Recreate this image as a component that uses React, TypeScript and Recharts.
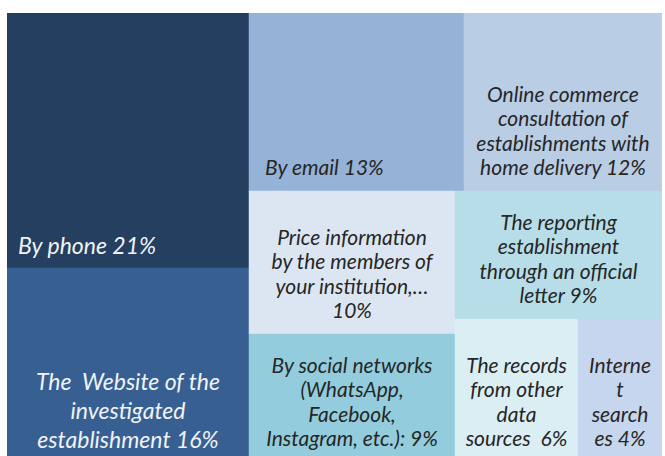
import React from 'react';
import { Treemap } from 'recharts';

const categories = [
  'By phone',
  'The Website of the investigated establishment',
  'By email',
  'Online commerce consultation of establishments with home delivery',
  'Price information by the members of your institution',
  'By social networks (WhatsApp, Facebook, Instagram, etc.)',
  'The reporting establishment through an official letter',
  'The records from other data sources',
  'Internet searches',
];
const shares = [21, 16, 13, 12, 10, 9, 9, 6, 4];
const labelLines = [
  ['By phone 21%'],
  ['The  Website of the', 'investigated', 'establishment 16%'],
  ['By email 13%'],
  ['Online commerce', 'consultation of', 'establishments with', 'home delivery 12%'],
  ['Price information', 'by the members of', 'your institution,…', '10%'],
  ['By social networks', '(WhatsApp,', 'Facebook,', 'Instagram, etc.): 9%'],
  ['The reporting', 'establishment', 'through an official', 'letter 9%'],
  ['The records', 'from other', 'data', 'sources  6%'],
  ['Interne', 't', 'search', 'es 4%'],
];
const COLORS = ['#243F60', '#375F92', '#95B3D7', '#B9CDE5', '#DCE6F2', '#93CDDD', '#B7DEE8', '#DAEEF3', '#C6D6EE'];

const data = categories.map((name, i) => ({ name, size: shares[i], lines: labelLines[i] }));

const Cell = (props: any) => {
  const { x, y, width, height, depth, name, lines } = props;
  if (depth !== 1 || !lines) return null;
  const idx = categories.indexOf(name);
  const fill = COLORS[idx];
  const dark = idx <= 1;
  const fontSize = dark ? 23 : 21;
  const lineH = dark ? 29 : 24.5;
  const bottomPad = dark ? 14 : 16;
  const sidePad = dark ? 11 : 16;
  const single = lines.length === 1;
  const tx = single ? x + sidePad : x + width / 2;
  const first = y + height - bottomPad - (lines.length - 1) * lineH;
  return (
    <g>
      <rect x={x} y={y} width={width} height={height} fill={fill} stroke={fill} strokeWidth={0.5} />
      <text
        textAnchor={single ? 'start' : 'middle'}
        fill={dark ? '#F0F3F7' : '#262626'}
        fontFamily="Lato, 'Open Sans', sans-serif"
        fontStyle="italic"
        fontSize={fontSize}
        style={{ whiteSpace: 'pre' }}
      >
        {lines.map((l: string, i: number) => (
          <tspan key={i} x={tx} y={first + i * lineH}>
            {l}
          </tspan>
        ))}
      </text>
    </g>
  );
};

export default function App() {
  return (
    <div style={{ position: 'absolute', left: 7, top: 13, width: 655, height: 443, overflow: 'hidden', background: '#fff' }}>
      <Treemap
        width={655}
        height={449}
        data={data}
        dataKey="size"
        nameKey="name"
        aspectRatio={1}
        isAnimationActive={false}
        content={<Cell />}
      />
    </div>
  );
}
